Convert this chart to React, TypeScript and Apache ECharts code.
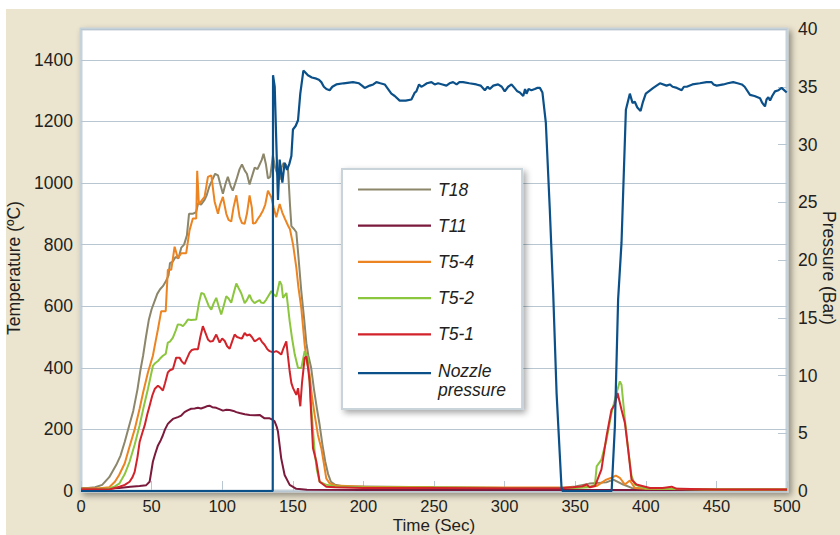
import React, { useEffect, useRef } from 'react';
import * as echarts from 'echarts';

const FONT = '"Liberation Sans", Arial, Helvetica, sans-serif';

const timeAxis = { min: 0, max: 500, interval: 50 };
const tempAxis = { min: 0, max: 1500, interval: 200 };
const pressAxis = { min: 0, max: 40, interval: 5 };

const seriesNames = ['T18', 'T11', 'T5-4', 'T5-2', 'T5-1', 'Nozzle pressure'];
const seriesColors = ['#8c866a', '#7b1a3c', '#ec8421', '#8cc63e', '#d2232a', '#0b5089'];

const T18: [number, number][] = [
  [0,10],[5,10],[10,12],[15,20],[20,45],[25,85],[28,115],[31,160],[34,210],[37,260],[40,330],[42,390],[44,440],[46,500],[48,555],[50,590],[52,615],[54,640],[56,655],[58,665],[60,680],[62,700],[63,740],[65,745],[67,760],[69,755],[71,790],[73,800],[75,830],[76.5,900],[79,900],[81.5,905],[83,935],[85,930],[87.5,945],[89,960],[91,990],[93,1010],[95,1030],[97,1025],[99,990],[100.5,965],[102.5,1000],[104,1020],[106,990],[107.5,975],[110,1010],[112.3,1045],[114,1060],[116,1040],[117.5,1030],[119.4,995],[121,1020],[123,1050],[125,1045],[126.5,1060],[128,1075],[129.3,1095],[131,1060],[132.4,1015],[134,1020],[135.9,1090],[137.5,1050],[139,1030],[140.7,1010],[142,1050],[143.5,1065],[145,1060],[146.6,1045],[148,930],[149,860],[151,850],[152.5,840],[154,760],[156,650],[158,560],[159.6,480],[161,440],[163,400],[165,330],[167,270],[169,215],[171,150],[173,95],[175,55],[177,30],[180,20],[186,15],[200,15],[250,12],[300,10],[340,10],[350,15],[360,24],[372,28],[377,37],[384,21],[390,10],[400,8],[450,6],[500,5]
];

const T11: [number, number][] = [
  [0,5],[10,6],[20,8],[27,10],[35,14],[41.5,16],[46.2,19],[48.6,30],[50.9,95],[52.5,120],[54.5,148],[56.5,165],[58,181],[59.5,200],[61.5,218],[63,225],[65.1,234],[68.6,240],[71,245],[73.3,256],[75.5,262],[78,267],[80.5,268],[82.8,270],[85,268],[87.5,272],[89,275],[91,277],[93,272],[95.8,270],[98,266],[100.5,261],[103,264],[105.3,263],[108,260],[110,256],[112.3,253],[116,249],[119.4,247],[123,246],[126.5,247],[130,236],[133.6,236],[135.5,232],[137.1,226],[138.5,210],[139.5,193],[141.8,106],[144.2,52],[147.8,20],[152.5,7],[160,4],[200,3],[300,3],[400,3],[500,3]
];

const T5_4: [number, number][] = [
  [0,8],[10,8],[15,10],[20,12],[24,30],[27,52],[31,90],[34,138],[38,200],[41.5,267],[44,320],[47.4,385],[50.9,439],[53,490],[54.5,525],[56.8,584],[60,584],[61.5,718],[63.9,718],[66.3,793],[68.6,756],[71,772],[74.5,772],[76.9,847],[79.2,885],[81.6,885],[82.3,1040],[83.5,930],[85,940],[87.5,955],[89.9,1020],[92.3,1025],[94.6,940],[97,900],[98.5,930],[100.5,955],[102.9,900],[104.5,880],[106.4,875],[108,920],[110,960],[112.3,890],[114,870],[115.9,868],[117.5,900],[119.4,960],[121,920],[121.8,868],[123.5,870],[125.3,884],[127,895],[128.9,911],[130.5,930],[132.4,975],[134.8,954],[136.5,920],[138.3,889],[140.7,932],[142.5,905],[144.3,885],[146.6,862],[148,850],[150.2,800],[152.5,725],[154,660],[156,595],[158.4,475],[160,420],[161.9,378],[163.5,310],[165.5,247],[167.8,182],[169,160],[170.2,139],[172,90],[173.7,41],[176,25],[180,18],[200,14],[250,12],[300,11],[350,12],[360,14],[365,16],[372,37],[375.7,43],[378.8,50],[381.6,43],[385.2,21],[388.7,34],[392.2,10],[400,7],[450,5],[500,5]
];

const T5_2: [number, number][] = [
  [0,6],[10,6],[15,7],[20,8],[24,15],[27.3,25],[31,55],[34.4,95],[38,150],[41.5,213],[44.5,275],[47.4,331],[50.9,406],[52.5,415],[54.5,422],[56,430],[58,439],[60,445],[61.5,482],[63,485],[65.1,498],[67,520],[68.6,541],[70.5,540],[72.2,535],[74,545],[75.7,557],[78,555],[81.6,557],[83.5,610],[85.2,643],[87,640],[88.7,621],[90.5,600],[92.3,589],[94,610],[95.8,627],[97.5,600],[99.3,573],[101,600],[102.9,632],[104.5,625],[106.4,611],[108,640],[110,674],[111.5,660],[113.5,642],[115.9,610],[117.5,620],[119.4,637],[121,620],[122.9,610],[124.5,615],[126.5,620],[127.5,612],[129.3,610],[131,620],[132.4,631],[134.8,649],[136.2,640],[138.3,631],[140.7,681],[142,670],[143.1,627],[145.5,643],[147.8,551],[149.5,495],[151.4,443],[153.7,399],[156,399],[158.4,454],[160.7,432],[162,350],[163.1,269],[165.5,128],[167,70],[169,30],[173.7,20],[180,15],[200,12],[250,11],[300,10],[350,10],[360,12],[364,21],[365.2,80],[368.6,102],[372.2,167],[375.7,253],[379.3,318],[381.6,356],[382.8,345],[385.2,232],[387.5,135],[389.9,49],[392.2,21],[400,8],[450,5],[500,5]
];

const T5_1: [number, number][] = [
  [0,6],[10,6],[20,5],[27.3,14],[31,20],[34.4,30],[36.5,45],[38,62],[40,110],[41.5,159],[43.5,190],[45.1,213],[47,250],[48.6,277],[50.5,310],[52.2,331],[54.5,342],[56.3,335],[58,326],[59.5,350],[61.5,385],[63,392],[65.1,396],[67.4,433],[69.8,433],[71.5,420],[73.3,412],[75,430],[76.9,449],[78.5,458],[80.4,460],[82.8,460],[84.5,500],[86.3,535],[88,515],[89.9,492],[91.5,485],[93.4,487],[95.8,508],[98.2,482],[100,495],[101.8,487],[103.5,470],[105.3,462],[107,485],[108.8,508],[110.5,500],[112.3,497],[114,495],[115.9,513],[117.5,505],[119.4,508],[121,500],[122.9,486],[124.5,490],[126.5,497],[128,485],[130,475],[132,460],[133.6,454],[136,450],[138.3,454],[140,450],[141.8,443],[143.5,465],[145.4,486],[146.5,440],[147.8,388],[149,350],[150.2,334],[152.5,312],[153.7,334],[155.3,275],[156.5,350],[158.4,432],[159.6,437],[160.8,400],[161.9,356],[163,250],[164.3,139],[166.7,95],[169,30],[173.7,14],[180,12],[200,10],[250,10],[300,9],[340,9],[348.6,12],[355,15],[358,21],[360.4,12],[364,16],[368.6,70],[372.2,178],[375.7,264],[378.1,281],[380,318],[382.8,264],[385.2,221],[387.5,135],[389.9,37],[393.4,21],[402.9,10],[412,10],[418.3,14],[422,7],[450,5],[500,5]
];

const nozzlePressure: [number, number][] = [
  [0,0],[134,0],[135.8,0],[136,36],[137.2,35],[139.5,25.2],[140.7,28.7],[142.6,26.7],[144.2,28.4],[145.9,27.8],[147.5,28.3],[149,29],[150.1,31.3],[152,31.6],[153.7,32.1],[155.3,34.4],[157.5,36.4],[158.4,36.3],[160.7,36.0],[163.5,35.8],[166.7,35.7],[168.5,35.6],[170.2,35.4],[172,35.0],[173.8,34.8],[176.1,34.7],[178,35.0],[180.8,35.2],[186,35.3],[192.6,35.4],[196.9,35.3],[199,35.1],[200.9,34.9],[204.5,35.1],[207,35.2],[209.2,35.4],[212,35.3],[215.1,35.2],[217.5,34.8],[219.8,34.4],[222.2,34.2],[225.7,33.8],[230,33.8],[234,33.9],[236.4,34.5],[237.5,34.6],[239.4,35.2],[241,35.0],[242.5,35.1],[245,35.3],[248.2,35.4],[250.5,35.2],[252.9,35.3],[256,35.2],[258.8,35.1],[261,35.3],[263.5,35.4],[266,35.2],[268,35.4],[270.6,35.4],[275,35.3],[280,35.2],[283,35.1],[286,34.7],[288,35.0],[289.5,34.8],[292,35.1],[295.4,35.2],[298,35.0],[300.1,34.6],[302.5,35.0],[304.9,35.2],[307,34.9],[309,34.6],[310.8,34.5],[313.2,34.2],[314.5,34.8],[315.5,34.4],[317,34.8],[319,34.7],[321.4,34.8],[323,34.9],[325,34.9],[326.8,34.5],[329.2,31.9],[332,24.4],[334.4,17.2],[336.8,8.5],[340.3,0.3],[341,0],[375.8,0],[378.1,5.6],[380.4,16.6],[382.8,21.5],[385.9,33],[388.7,34.4],[390.6,33.6],[392.2,33.7],[394,33.2],[396.3,32.9],[398,33.7],[400,34.4],[405.3,34.9],[410,35.3],[414.7,35.1],[417,35.2],[419,35.0],[422,34.9],[425.4,34.7],[427,35.0],[429,35.0],[433,35.2],[438.3,35.3],[443,35.4],[446.6,35.4],[448,35.2],[450.2,35.1],[455,35.2],[458,35.3],[461.9,35.4],[465,35.3],[468,35.2],[470,35.0],[473.8,34.3],[477,34.2],[480.9,34.0],[482.5,33.6],[484.4,33.3],[485.5,33.9],[486.8,34.1],[488,33.8],[489.5,34.2],[491.5,34.6],[494,34.7],[496.2,34.9],[499.8,34.5]
];

const seriesData = [T18, T11, T5_4, T5_2, T5_1, nozzlePressure];

const TEXT = '#231f20';
const GRIDLINE = '#b7c6d0';

export default function App() {
  const ref = useRef<HTMLDivElement>(null);

  useEffect(() => {
    if (!ref.current) return;
    const chart = echarts.init(ref.current, null, { renderer: 'svg' });
    const barIcon = 'path://M0,0L73,0L73,2.2L0,2.2ZM75,1L75.01,1';
    const barIconTop = 'path://M0,0L73,0L73,2.2L0,2.2ZM75,16L75.01,16';
    const plain = (v: number) => String(v);
    chart.setOption({
      animation: false,
      backgroundColor: 'transparent',
      textStyle: { fontFamily: FONT },
      grid: {
        left: 81, top: 29, right: 53, bottom: 44,
        outerBoundsMode: 'none',
        containLabel: false,
        show: true, backgroundColor: '#ffffff',
        borderColor: '#c6d2da', borderWidth: 3,
        shadowBlur: 6, shadowColor: 'rgba(0,0,0,0.4)', shadowOffsetX: 3, shadowOffsetY: 3,
      },
      legend: {
        orient: 'vertical', left: 342, top: 169,
        padding: [11, 16, 10, 16],
        itemWidth: 75, itemHeight: 16, itemGap: 17.2,
        icon: barIcon,
        itemStyle: { borderWidth: 0 },
        selectedMode: false,
        backgroundColor: '#ffffff', borderColor: '#c9d3da', borderWidth: 2,
        shadowBlur: 6, shadowColor: 'rgba(0,0,0,0.35)', shadowOffsetX: 3, shadowOffsetY: 3,
        textStyle: { fontSize: 17.5, fontStyle: 'italic', color: TEXT, fontFamily: FONT, lineHeight: 19 },
        formatter: (n: string) => (n === 'Nozzle pressure' ? 'Nozzle\npressure' : n),
        data: [
          ...seriesNames.slice(0, 5).map((n) => ({ name: n })),
          { name: seriesNames[5], icon: barIconTop },
        ],
      },
      xAxis: {
        type: 'value', ...timeAxis,
        name: 'Time (Sec)', nameLocation: 'middle', nameGap: 25.5, nameMoveOverlap: false,
        nameTextStyle: { fontSize: 17, color: TEXT, fontFamily: FONT },
        axisLine: { show: false },
        axisTick: { show: true, inside: true, length: 10, lineStyle: { color: GRIDLINE } },
        axisLabel: { fontSize: 16.5, color: TEXT, margin: 6, fontFamily: FONT, formatter: plain },
        splitLine: { show: false },
      },
      yAxis: [
        {
          type: 'value', ...tempAxis, position: 'left',
          name: 'Temperature (ºC)', nameLocation: 'middle', nameGap: 46,
          nameTextStyle: { fontSize: 17.5, color: TEXT, fontFamily: FONT, padding: [0, 16, 0, 0] },
          axisLine: { show: false },
          axisTick: { show: false },
          axisLabel: { fontSize: 17.5, color: TEXT, margin: 8, showMaxLabel: false, fontFamily: FONT, formatter: plain },
          splitLine: { show: true, lineStyle: { color: GRIDLINE, width: 1 } },
        },
        {
          type: 'value', ...pressAxis, position: 'right',
          name: 'Pressure (Bar)', nameLocation: 'middle', nameGap: 33, nameRotate: -90, nameMoveOverlap: false,
          nameTextStyle: { fontSize: 17.5, color: TEXT, fontFamily: FONT, padding: [0, 0, 0, 16] },
          axisLine: { show: false },
          axisTick: { show: true, inside: true, length: 9, lineStyle: { color: GRIDLINE } },
          axisLabel: { fontSize: 17.5, color: TEXT, margin: 11, fontFamily: FONT, formatter: plain },
          splitLine: { show: false },
        },
      ],
      series: seriesNames.map((name, i) => ({
        name,
        type: 'line',
        yAxisIndex: i === 5 ? 1 : 0,
        data: seriesData[i],
        symbol: 'none',
        showSymbol: false,
        smooth: false,
        color: seriesColors[i],
        lineStyle: { color: seriesColors[i], width: i === 5 ? 2.2 : 2 },
        z: i === 5 ? 3 : 2,
      })),
    });
    return () => chart.dispose();
  }, []);

  return (
    <div style={{ position: 'absolute', left: 0, top: 0, width: 840, height: 535, overflow: 'hidden', background: '#ffffff' }}>
      <div style={{ position: 'absolute', left: 6, top: 9, right: 0, bottom: 0, background: '#ebe4cf' }} />
      <div ref={ref} style={{ position: 'absolute', left: 0, top: 0, width: 840, height: 535 }} />
    </div>
  );
}
